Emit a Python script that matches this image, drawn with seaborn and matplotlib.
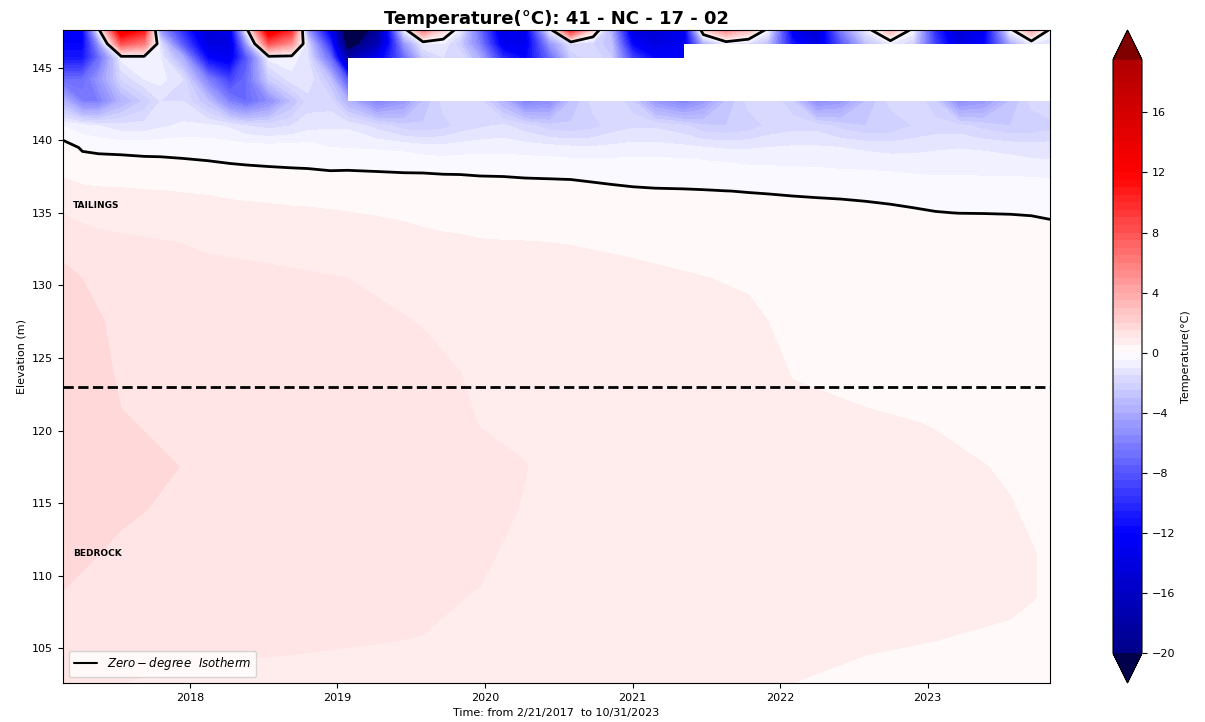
import numpy as np
import pandas as pd
import matplotlib
matplotlib.use("Agg")
import matplotlib.pyplot as plt
import matplotlib.dates as mdates
from matplotlib.colors import Normalize
from matplotlib.lines import Line2D
from matplotlib.transforms import blended_transform_factory
import seaborn as sns

nan = np.nan

# sample dates for the upper sensors (tailings / active layer)
dates = ["2017-02-21", "2017-04-10", "2017-05-20", "2017-07-15", "2017-09-10", "2017-10-20", "2017-12-15",
         "2018-02-15", "2018-04-10", "2018-05-20", "2018-07-15", "2018-09-10", "2018-10-20", "2018-12-15",
         "2019-01-26", "2019-04-10", "2019-06-15", "2019-08-01", "2019-09-20", "2019-11-01", "2019-12-20",
         "2020-02-15", "2020-04-10", "2020-06-10", "2020-08-01", "2020-09-25", "2020-11-10",
         "2021-01-01", "2021-02-25", "2021-05-08", "2021-06-25", "2021-08-20", "2021-10-15", "2021-12-01",
         "2022-02-01", "2022-04-01", "2022-06-01", "2022-08-01", "2022-10-01", "2022-11-25",
         "2023-01-20", "2023-03-20", "2023-05-20", "2023-07-25", "2023-09-15", "2023-10-31"]

# temperature (°C) of each upper sensor, one list per elevation
t1476 = [-13, -12, -0.5, 14, 11, -5, -10, -15, -13, -1, 14, 10, -5, -13, -23, -19, -1, 6, 2, -1, -7,
         -14, -13, -1, 10, 2, -4, -14, -15, -13, 2, 5.5, 3, -0.5, -13, -15, -6, -1, 3.5, -0.5,
         -10, -15, -13, -0.5, 4, -0.3]
t14665 = [-12, -12, -5, 8, 6, -1.5, -8, -14, -14, -5, 8, 5, -2, -10, -22, -17, -5, -1, -1, -2.5, -6,
          -13, -13, -5, -1.5, -2, -3, -12, -14, -13, -4, -1, -1.5, -3, -11, -14, -8, -3, -1, -2,
          -9, -14, -12, -4, -1, -1.5]
t1457 = [-11, -11, -7, -0.8, -0.6, -1.0, -4, -12, -13, -8, -0.8, -0.7, -1.5, -7, -18, -13, -7, -2.5,
         -1.5, -1.5, -4, -10, -12, -7, -2.5, -1.5, -2.5, -9, -12, -12] + [nan] * 16
t1442 = [-7, -7, -5, -2, -1, -0.8, -1.5, -6, -9, -7, -2.5, -1.2, -1.0, -3, -8] + [nan] * 31
t1427 = [-3.5, -6, -6, -3.6, -2.4, -1.5, -1.5, -3, -6, -7, -5.4, -3, -1.8, -1.8, -3.6, -6, -4.8, -3,
         -1.8, -1.5, -1.8, -3.6, -6, -5.4, -3, -1.8, -1.5, -2.4, -4.8, -6, -4.8, -3, -1.8, -1.5,
         -2.4, -5.4, -4.8, -3, -1.8, -1.5, -2.4, -5.4, -4.8, -3, -1.8, -1.5]
t141 = [-0.5, -0.8, -1.0, -1.3, -1.3, -1.1, -0.9, -0.9, -1.1, -1.5, -1.7, -1.5, -1.2, -1.1, -1.1,
        -1.7, -2.3, -2.4, -2.2, -1.8, -1.6, -1.4, -1.8, -2.3, -2.4, -2.2, -1.8, -1.6, -1.6, -1.9,
        -2.4, -2.5, -2.3, -1.9, -1.7, -1.7, -2.2, -2.5, -2.4, -2.0, -1.8, -1.8, -2.2, -2.5, -2.4, -2.2]
t1395 = [0.25, -0.06, -0.1, -0.11, -0.14, -0.14, -0.16, -0.2, -0.24, -0.26, -0.28, -0.28, -0.28,
         -0.5, -0.52, -0.56, -0.62, -0.75, -0.81, -0.75, -0.69, -0.69, -0.75, -0.81, -0.9, -0.94,
         -0.88, -0.81, -0.81, -0.88, -0.98, -1.06, -1.06, -1.0, -0.94, -0.94, -1.0, -1.1, -1.19,
         -1.15, -1.06, -1.02, -1.06, -1.15, -1.25, -1.25]
t138 = [0.4, 0.28, 0.25, 0.22, 0.205, 0.19, 0.16, 0.13, 0.088, 0.065, 0.041, 0.02, 0.01, -0.019,
        -0.012, -0.025, -0.038, -0.038, -0.05, -0.05, -0.062, -0.064, -0.075, -0.079, -0.084, -0.1,
        -0.112, -0.125, -0.13, -0.125, -0.175, -0.25, -0.375, -0.4, -0.44, -0.46, -0.5, -0.525,
        -0.56, -0.625, -0.69, -0.69, -0.7, -0.71, -0.75, -0.81]
t1365 = [0.65, 0.59, 0.56, 0.55, 0.52, 0.51, 0.48, 0.456, 0.41, 0.39, 0.354, 0.32, 0.304, 0.274,
         0.25, 0.221, 0.204, 0.186, 0.171, 0.158, 0.14, 0.129, 0.112, 0.102, 0.095, 0.069, 0.049,
         0.031, 0.02, 0.014, 0.012, 0.0025, -0.0075, -0.011, -0.015, -0.019, -0.021, -0.024,
         -0.029, -0.035, -0.042, -0.05, -0.056, -0.062, -0.075, -0.1]
t135 = [0.98, 0.88, 0.81, 0.78, 0.75, 0.74, 0.7, 0.68, 0.64, 0.62, 0.61, 0.58, 0.57, 0.54,
        0.51, 0.47, 0.44, 0.41, 0.386, 0.36, 0.34, 0.32, 0.3, 0.284, 0.274, 0.24, 0.21,
        0.19, 0.174, 0.151, 0.135, 0.119, 0.105, 0.074, 0.051, 0.044, 0.036, 0.027, 0.019, 0.011,
        0.003, -0.0012, -0.0022, -0.0042, -0.0084, -0.018]
t133 = [1.34, 1.22, 1.15, 1.09, 1.05, 1.02, 0.99, 0.95, 0.9, 0.89, 0.88, 0.86, 0.85, 0.84,
        0.8, 0.71, 0.64, 0.59, 0.56, 0.55, 0.52, 0.51, 0.506, 0.496, 0.49, 0.45, 0.42,
        0.4, 0.38, 0.34, 0.31, 0.29, 0.25, 0.2, 0.15, 0.14, 0.12, 0.11, 0.106, 0.1,
        0.094, 0.088, 0.088, 0.081, 0.075, 0.062]
elev_top = [133.0, 135.0, 136.5, 138.0, 139.5, 141.0, 142.7, 144.2, 145.7, 146.65, 147.6]

# deeper sensors, read less often
deep_dates = ["2017-02-21", "2017-07-15", "2018-02-15", "2018-07-15", "2019-01-26", "2019-08-01",
              "2019-12-20", "2020-04-10", "2020-08-01", "2021-01-01", "2021-06-25", "2021-10-15",
              "2022-02-01", "2022-08-01", "2023-01-20", "2023-07-25", "2023-10-31"]
d1330 = [1.34, 1.09, 0.95, 0.88, 0.8, 0.59, 0.52, 0.506, 0.49, 0.4, 0.31, 0.25, 0.15, 0.11, 0.094, 0.081, 0.062]
d1305 = [1.62, 1.25, 1.1, 1.08, 1.0, 0.78, 0.69, 0.62, 0.59, 0.62, 0.51, 0.45, 0.28, 0.2, 0.15, 0.12, 0.1]
d1275 = [1.75, 1.4, 1.22, 1.2, 1.15, 0.98, 0.82, 0.75, 0.69, 0.69, 0.62, 0.58, 0.4, 0.3, 0.25, 0.2, 0.16]
d1240 = [1.81, 1.45, 1.31, 1.29, 1.25, 1.12, 0.94, 0.85, 0.75, 0.7, 0.68, 0.62, 0.49, 0.41, 0.38, 0.3, 0.25]
d1205 = [1.81, 1.52, 1.4, 1.35, 1.3, 1.2, 0.99, 0.94, 0.81, 0.75, 0.71, 0.66, 0.56, 0.54, 0.49, 0.41, 0.34]
d1175 = [1.75, 1.62, 1.44, 1.38, 1.32, 1.22, 1.08, 1.01, 0.85, 0.78, 0.72, 0.68, 0.59, 0.58, 0.55, 0.48, 0.4]
d1145 = [1.69, 1.55, 1.38, 1.32, 1.29, 1.19, 1.1, 0.98, 0.84, 0.75, 0.7, 0.65, 0.58, 0.58, 0.56, 0.51, 0.45]
d1115 = [1.6, 1.44, 1.28, 1.25, 1.21, 1.12, 1.06, 0.9, 0.79, 0.71, 0.66, 0.62, 0.56, 0.56, 0.55, 0.54, 0.48]
d1085 = [1.48, 1.28, 1.16, 1.15, 1.12, 1.06, 0.98, 0.82, 0.72, 0.66, 0.62, 0.59, 0.54, 0.54, 0.52, 0.52, 0.49]
d1055 = [1.25, 1.12, 1.05, 1.05, 1.02, 0.99, 0.88, 0.75, 0.68, 0.62, 0.59, 0.56, 0.52, 0.52, 0.5, 0.48, 0.46]
d1026 = [1.06, 1.0, 0.95, 0.92, 0.9, 0.88, 0.78, 0.69, 0.62, 0.57, 0.55, 0.52, 0.5, 0.46, 0.44, 0.41, 0.4]
elev_deep = [102.6, 105.5, 108.5, 111.5, 114.5, 117.5, 120.5, 124.0, 127.5, 130.5, 133.0]

cbar_ticks = [-20, -16, -12, -8, -4, 0, 4, 8, 12, 16]

sns.set_style("ticks", rc={"axes.edgecolor": "k", "xtick.color": "k", "ytick.color": "k",
                           "text.color": "k", "axes.labelcolor": "k"})
plt.rcParams["font.family"] = ["DejaVu Sans"]

fig = plt.figure(figsize=(12.05, 7.22), dpi=100)
ax = fig.add_axes([63 / 1205, 39 / 722, 987 / 1205, 653 / 722])
cax = fig.add_axes([1113 / 1205, 39 / 722, 29 / 1205, 653 / 722])

levels = np.arange(-20, 20, 0.5)
norm = Normalize(-24, 24)

xt = mdates.date2num(pd.to_datetime(dates))
xd = mdates.date2num(pd.to_datetime(deep_dates))
Xt, Yt = np.meshgrid(xt, elev_top)
Xd, Yd = np.meshgrid(xd, elev_deep)
Zt = np.ma.masked_invalid(np.array([t133, t135, t1365, t138, t1395, t141, t1427, t1442, t1457, t14665, t1476]))
Zd = np.array([d1026, d1055, d1085, d1115, d1145, d1175, d1205, d1240, d1275, d1305, d1330])

cf = ax.contourf(Xd, Yd, Zd, levels=levels, cmap="seismic", norm=norm, extend="both")
ax.contourf(Xt, Yt, Zt, levels=levels, cmap="seismic", norm=norm, extend="both", corner_mask=False)
ax.contour(Xt, Yt, Zt, levels=[0], colors="k", linewidths=2, corner_mask=False)

ax.axhline(123, color="k", ls="--", lw=2)

tr = blended_transform_factory(ax.transAxes, ax.transData)
ax.text(0.01, 135.5, "TAILINGS", transform=tr, fontsize=6.5, fontweight="bold", va="center")
ax.text(0.01, 111.5, "BEDROCK", transform=tr, fontsize=6.5, fontweight="bold", va="center")

ax.set_xlim(mdates.date2num(pd.Timestamp("2017-02-21")), mdates.date2num(pd.Timestamp("2023-10-31")))
ax.set_ylim(102.6, 147.6)
ax.set_yticks([105, 110, 115, 120, 125, 130, 135, 140, 145])
ax.xaxis.set_major_locator(mdates.YearLocator())
ax.xaxis.set_major_formatter(mdates.DateFormatter("%Y"))
ax.tick_params(labelsize=8)
ax.set_xlabel("Time: from 2/21/2017  to 10/31/2023", fontsize=8, labelpad=4)
ax.set_ylabel("Elevation (m)", fontsize=8)
ax.set_title("Temperature(°C): 41 - NC - 17 - 02", fontsize=13, fontweight="bold", pad=4)
for s in ax.spines.values():
    s.set_visible(True)

ax.legend([Line2D([], [], color="k", lw=1.5)], [r"$Zero-degree\ \ Isotherm$"],
          loc="lower left", fontsize=8.5, frameon=True)

cb = fig.colorbar(cf, cax=cax, ticks=cbar_ticks)
cb.set_label("Temperature(°C)", fontsize=8)
cb.ax.tick_params(labelsize=8)

fig.savefig("out.png", dpi=100)
